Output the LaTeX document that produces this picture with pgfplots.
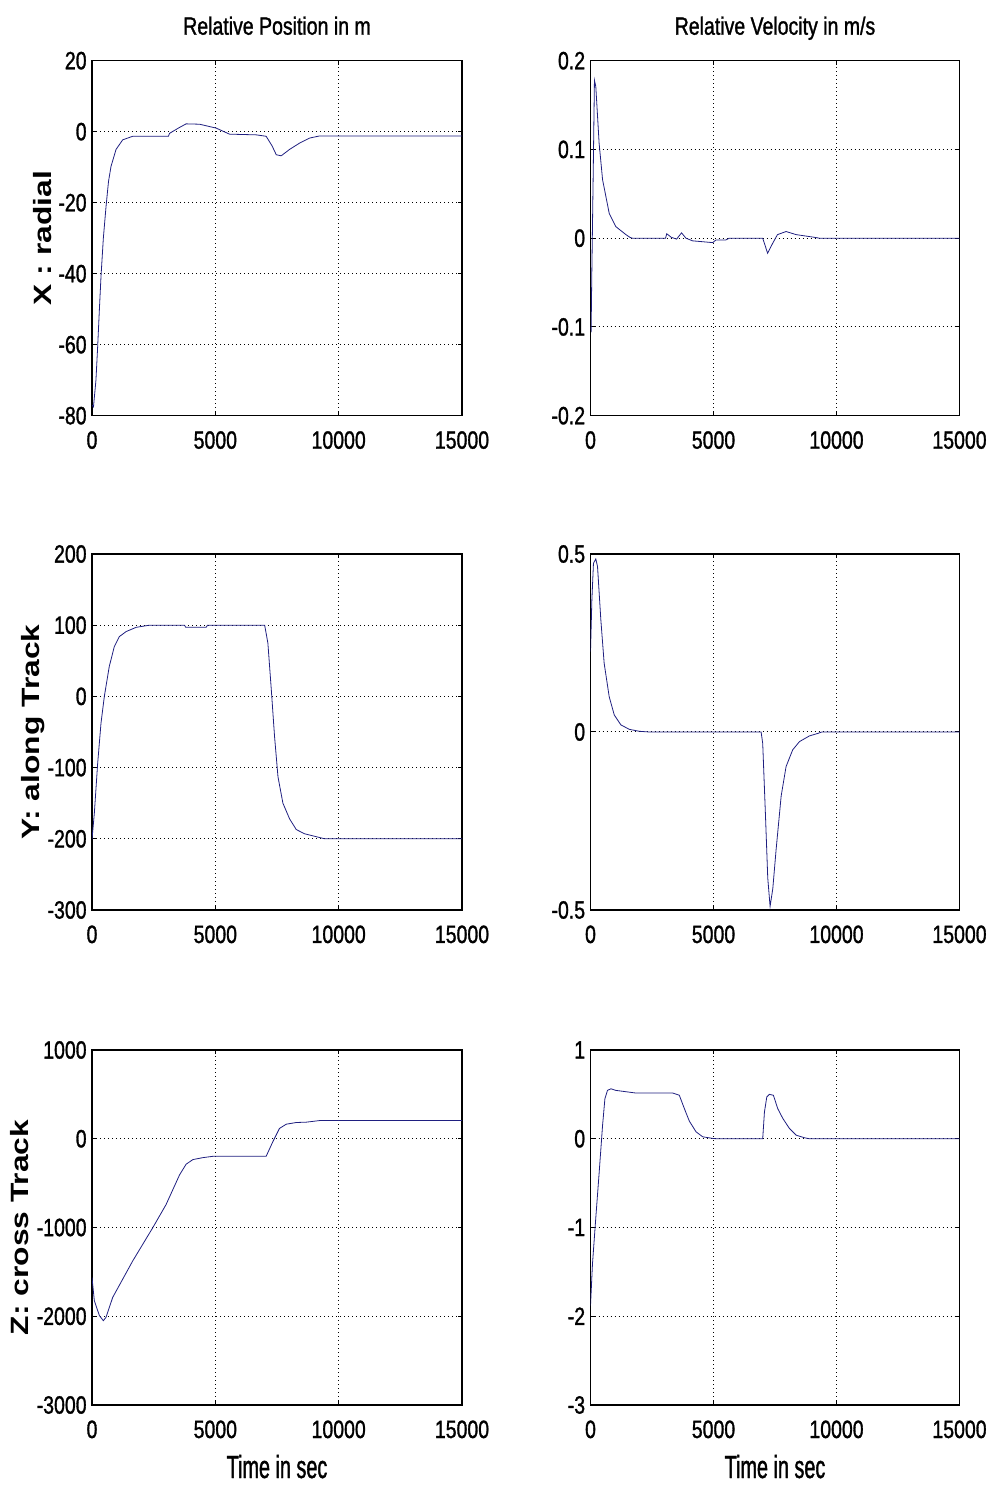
\documentclass[border=0pt]{standalone}
\usepackage{fontspec}
\setmainfont{Liberation Sans}[FakeStretch=0.78, FakeBold=1.2]
\newfontfamily\labfont{Liberation Sans}[FakeStretch=1.27]
\newfontfamily\xlabfont{Liberation Sans}[FakeStretch=0.62, FakeBold=1.2]
\usepackage{pgfplots}
\pgfplotsset{compat=1.18}
\definecolor{curve}{rgb}{0.12,0.12,0.5}
\pgfplotsset{
  every axis title/.style={at={(axis description cs:0.5,1)}, anchor=base, yshift=13pt,
    font=\fontsize{12.5}{14}\selectfont},
  every axis x label/.style={at={(axis description cs:0.5,0)}, anchor=base, yshift=-36.5pt,
    font=\xlabfont\fontsize{16}{18}\selectfont},
  every axis y label/.style={rotate=90, anchor=base,
    font=\labfont\bfseries\fontsize{12.5}{14}\selectfont},
  mat/.style={
    scale only axis, width=185pt, height=177.5pt,
    xmin=0, xmax=15000, xtick={0,5000,10000,15000},
    scaled ticks=false,
    /pgf/number format/1000 sep={},
    /pgf/number format/assume math mode=true,
    tick align=inside, major tick length=2pt,
    grid=major,
    major grid style={black, line width=0.5pt, dash pattern=on 0.5pt off 1.5pt},
    axis line style={line width=0.6pt},
    every tick/.style={black, line width=0.5pt},
    tick label style={font=\fontsize{12.5}{14}\selectfont},
    xticklabel style={anchor=base, yshift=-16.5pt},
    yticklabel style={inner sep=0pt, xshift=-2.5pt},
    cycle list={{curve, line width=0.7pt, mark=none}},
  }
}
\begin{document}
\begin{tikzpicture}
\useasboundingbox (0,0) rectangle (496pt,743pt);

% row 1: X
\begin{axis}[mat, at={(46pt,535.15pt)}, anchor=south west,
    ymin=-80, ymax=20, ytick={-80,-60,-40,-20,0,20},
    title={Relative Position in m},
    ylabel={X : radial},
    ylabel style={at={(axis description cs:-0.1108,0.5)}}]
\addplot coordinates {
 (0,-77) (60,-77.5) (160,-70) (230,-60.5) (300,-50) (365,-40.8) (460,-30)
 (570,-21) (670,-14) (770,-9.8) (975,-5) (1245,-2.3) (1650,-1.3) (3100,-1.3)
 (3140,-0.5) (3500,1) (3815,2.2) (4360,2.1) (5035,1) (5575,-0.7) (6660,-0.9)
 (7060,-1.3) (7300,-4) (7470,-6.5) (7670,-6.8) (8010,-5) (8420,-3.2)
 (8820,-1.8) (9230,-1.2) (15000,-1.2)
};
\end{axis}
\begin{axis}[mat, at={(295.25pt,535.15pt)}, anchor=south west, width=184.5pt,
    ymin=-0.2, ymax=0.2, ytick={-0.2,-0.1,0,0.1,0.2},
    title={Relative Velocity in m/s}]
\addplot coordinates {
 (0,-0.1) (25,-0.103) (55,-0.036) (110,0.073) (160,0.178) (215,0.171)
 (350,0.107) (490,0.066) (760,0.028) (1030,0.013) (1440,0.004) (1600,0.001)
 (1700,0) (3050,0) (3100,0.005) (3280,0.001) (3500,-0.001) (3700,0.006)
 (3880,0) (4150,-0.003) (4970,-0.005) (5100,-0.002) (5500,-0.002) (5640,0)
 (7000,0) (7200,-0.017) (7400,-0.006) (7600,0.004) (7950,0.0075) (8360,0.004)
 (9100,0.001) (9300,0) (15000,0)
};
\end{axis}

% row 2: Y
\begin{axis}[mat, at={(46pt,288pt)}, anchor=south west, height=178pt,
    ymin=-300, ymax=200, ytick={-300,-200,-100,0,100,200},
    ylabel={Y: along Track},
    ylabel style={at={(axis description cs:-0.1432,0.5)}}]
\addplot coordinates {
 (0,-201) (95,-164) (230,-94) (365,-37.5) (500,0) (700,42) (905,70) (1110,84)
 (1380,91) (1790,97) (2330,100) (3750,100) (3800,97) (4630,97) (4680,100)
 (7000,100) (7130,75) (7270,9) (7400,-56) (7540,-113) (7740,-150) (8010,-172)
 (8280,-187) (8620,-193) (9090,-197) (9430,-200) (15000,-200)
};
\end{axis}
\begin{axis}[mat, at={(295.25pt,288pt)}, anchor=south west, width=184.5pt, height=178pt,
    ymin=-0.5, ymax=0.5, ytick={-0.5,0,0.5}]
\addplot coordinates {
 (0,0.226) (55,0.37) (120,0.474) (215,0.486) (285,0.465) (420,0.315)
 (555,0.193) (760,0.099) (965,0.048) (1235,0.02) (1575,0.0075) (1980,0.002)
 (2390,0) (6935,0) (7000,-0.032) (7110,-0.23) (7205,-0.41) (7300,-0.49)
 (7410,-0.44) (7545,-0.33) (7750,-0.18) (7950,-0.097) (8220,-0.05)
 (8495,-0.027) (8900,-0.011) (9240,-0.004) (9400,0) (15000,0)
};
\end{axis}

% row 3: Z
\begin{axis}[mat, at={(46pt,40.5pt)}, anchor=south west,
    ymin=-3000, ymax=1000, ytick={-3000,-2000,-1000,0,1000},
    xlabel={Time in sec},
    ylabel={Z: cross Track},
    ylabel style={at={(axis description cs:-0.1703,0.5)}}]
\addplot coordinates {
 (0,-1563) (95,-1825) (300,-1993) (460,-2050) (570,-2011) (840,-1787)
 (1650,-1377) (2460,-1004) (3000,-743) (3550,-407) (3815,-287) (4090,-235)
 (4490,-213) (4900,-198) (7060,-198) (7330,-34) (7600,116) (7875,164)
 (8280,183) (8690,187) (9230,205) (15000,205)
};
\end{axis}
\begin{axis}[mat, at={(295.25pt,40.5pt)}, anchor=south west, width=184.5pt,
    ymin=-3, ymax=1, ytick={-3,-2,-1,0,1},
    xlabel={Time in sec}]
\addplot coordinates {
 (0,-1.88) (80,-1.41) (215,-0.89) (355,-0.37) (490,0.15) (585,0.45)
 (690,0.545) (830,0.563) (1030,0.545) (1845,0.515) (3340,0.515) (3610,0.49)
 (3815,0.34) (4015,0.2) (4290,0.078) (4560,0.022) (4965,0.004) (5100,0)
 (7000,0) (7070,0.30) (7165,0.47) (7270,0.50) (7435,0.49) (7610,0.34)
 (7815,0.23) (8085,0.116) (8360,0.04) (8700,0.011) (8900,0) (15000,0)
};
\end{axis}
\end{tikzpicture}
\end{document}
